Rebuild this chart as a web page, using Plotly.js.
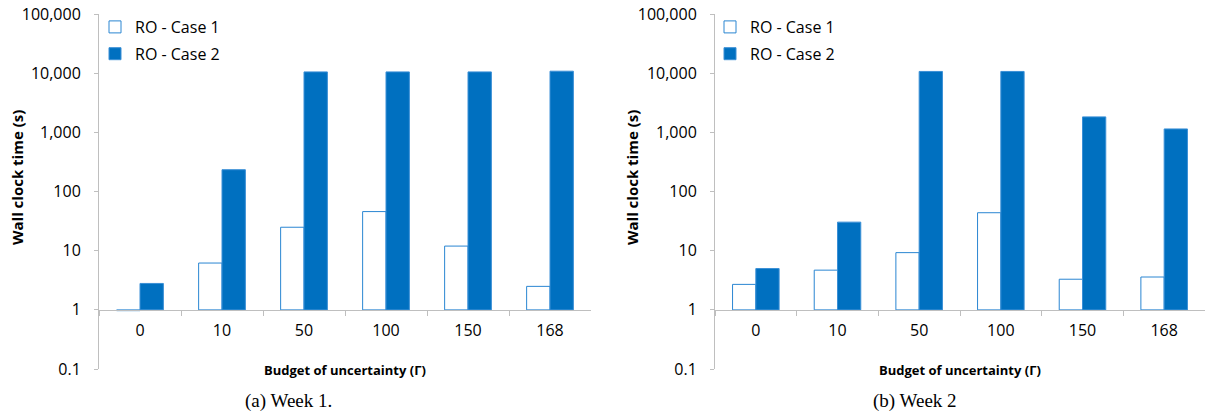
<!DOCTYPE html>
<html>
<head>
<meta charset="utf-8">
<script src="https://cdn.plot.ly/plotly-3.0.1.min.js"></script>
<style>html,body{margin:0;padding:0;background:#fff;}#chart{width:1208px;height:412px;}</style>
</head>
<body>
<div id="chart"></div>
<script>
// Categories (budget of uncertainty Γ)
const categories = ['0', '10', '50', '100', '150', '168'];
// Wall clock time (s)
const week1Case1 = [0.97, 6.2, 25, 46, 12, 2.5];
const week1Case2 = [2.8, 235, 10600, 10600, 10600, 10900];
const week2Case1 = [2.7, 4.7, 9.3, 44, 3.3, 3.6];
const week2Case2 = [5.0, 30.5, 10800, 10800, 1840, 1150];
// Y tick labels
const yTickVals = [0.1, 1, 10, 100, 1000, 10000, 100000];
const yTickText = ['0.1', '1', '10', '100', '1,000', '10,000', '100,000'];
const seriesNames = ['RO - Case 1', 'RO - Case 2'];
const captions = ['(a) Week 1.', '(b) Week 2'];

const BLUE = '#0070C0';
const AXIS = '#BFBFBF';
const BASE = 1; // bars rise from the value 1, where the category axis crosses

function barTrace(vals, idx, xa, ya, legendName, group) {
  const filled = idx === 1;
  return {
    type: 'bar',
    name: seriesNames[idx],
    x: categories,
    y: vals.map(v => v - BASE),
    base: BASE,
    customdata: vals,
    hovertemplate: '%{customdata}<extra>' + seriesNames[idx] + '</extra>',
    xaxis: xa, yaxis: ya,
    legend: legendName,
    legendgroup: group,
    marker: {
      color: filled ? BLUE : '#FFFFFF',
      line: {color: filled ? '#3A8FD6' : '#2A86D2', width: 1}
    }
  };
}

const data = [
  barTrace(week1Case1, 0, 'x', 'y', 'legend', 'a1'),
  barTrace(week1Case2, 1, 'x', 'y', 'legend', 'a2'),
  barTrace(week2Case1, 0, 'x2', 'y2', 'legend2', 'b1'),
  barTrace(week2Case2, 1, 'x2', 'y2', 'legend2', 'b2')
];

const W = 1208, H = 412;
const yDom = [1 - 369 / H, 1 - 14.3 / H];
const xAxisPos = 1 - 309.5 / H;

function xAx(domain) {
  return {
    domain: domain, anchor: 'free', position: xAxisPos,
    type: 'category', showline: true, linecolor: AXIS, linewidth: 1,
    ticks: 'outside', tickson: 'boundaries', ticklen: 5, tickcolor: AXIS, tickwidth: 1,
    ticklabelstandoff: 6,
    tickfont: {size: 16, color: '#000'}, showgrid: false, zeroline: false,
    automargin: false, fixedrange: true
  };
}
function yAx(anchor) {
  return {
    domain: yDom, anchor: anchor, type: 'log', range: [-1, 5],
    tickvals: yTickVals, ticktext: yTickText,
    showline: true, linecolor: AXIS, linewidth: 1,
    ticks: 'outside', ticklen: 4, tickcolor: AXIS, tickwidth: 1,
    ticklabelstandoff: 10,
    tickfont: {size: 16, color: '#000'}, showgrid: false, zeroline: false,
    automargin: false, fixedrange: true
  };
}

const leftDom = [99 / W, 591 / W];
const rightDom = [715 / W, 1205 / W];
const titleFont = {family: 'Open Sans', size: 15, color: '#000'};
const capFont = {family: 'Liberation Serif', size: 19, color: '#000'};

function yTitle(xpx) {
  return {text: '<b>Wall clock time (s)</b>', xref: 'paper', yref: 'paper',
    x: xpx / W, y: 1 - 178 / H, textangle: -90, showarrow: false,
    xanchor: 'center', yanchor: 'middle', font: titleFont};
}
function xTitle(dom) {
  return {text: '<b>Budget of uncertainty (Γ)</b>', xref: 'paper', yref: 'paper',
    x: (dom[0] + dom[1]) / 2, y: 1 - 370 / H, showarrow: false,
    xanchor: 'center', yanchor: 'middle', font: {family: 'Open Sans', size: 13, color: '#000'}};
}
function caption(text, dom, offsetPx) {
  return {text: text, xref: 'paper', yref: 'paper',
    x: (dom[0] + dom[1]) / 2 + offsetPx / W, y: 1 - 401 / H, showarrow: false,
    xanchor: 'center', yanchor: 'middle', font: capFont};
}

const legendBase = {
  xanchor: 'left', yanchor: 'top', bgcolor: 'rgba(0,0,0,0)', borderwidth: 0,
  font: {family: 'Open Sans', size: 16, color: '#000'},
  traceorder: 'grouped', tracegroupgap: 3, itemclick: false, itemdoubleclick: false
};

const layout = {
  width: W, height: H,
  margin: {l: 0, r: 0, t: 0, b: 0, autoexpand: false},
  paper_bgcolor: '#fff', plot_bgcolor: '#fff',
  font: {family: 'Open Sans', size: 14, color: '#000'},
  barmode: 'group', bargap: 0.43, bargroupgap: 0,
  showlegend: true,
  xaxis: xAx(leftDom), yaxis: yAx('x'),
  xaxis2: xAx(rightDom), yaxis2: yAx('x2'),
  legend: Object.assign({x: 95 / W, y: 1 - 10 / H}, legendBase),
  legend2: Object.assign({x: 710 / W, y: 1 - 10 / H}, legendBase),
  annotations: [
    yTitle(17), yTitle(632),
    xTitle(leftDom), xTitle(rightDom),
    caption(captions[0], leftDom, -57), caption(captions[1], rightDom, -45)
  ]
};

Plotly.newPlot('chart', data, layout, {displayModeBar: false, responsive: false});
</script>
</body>
</html>
